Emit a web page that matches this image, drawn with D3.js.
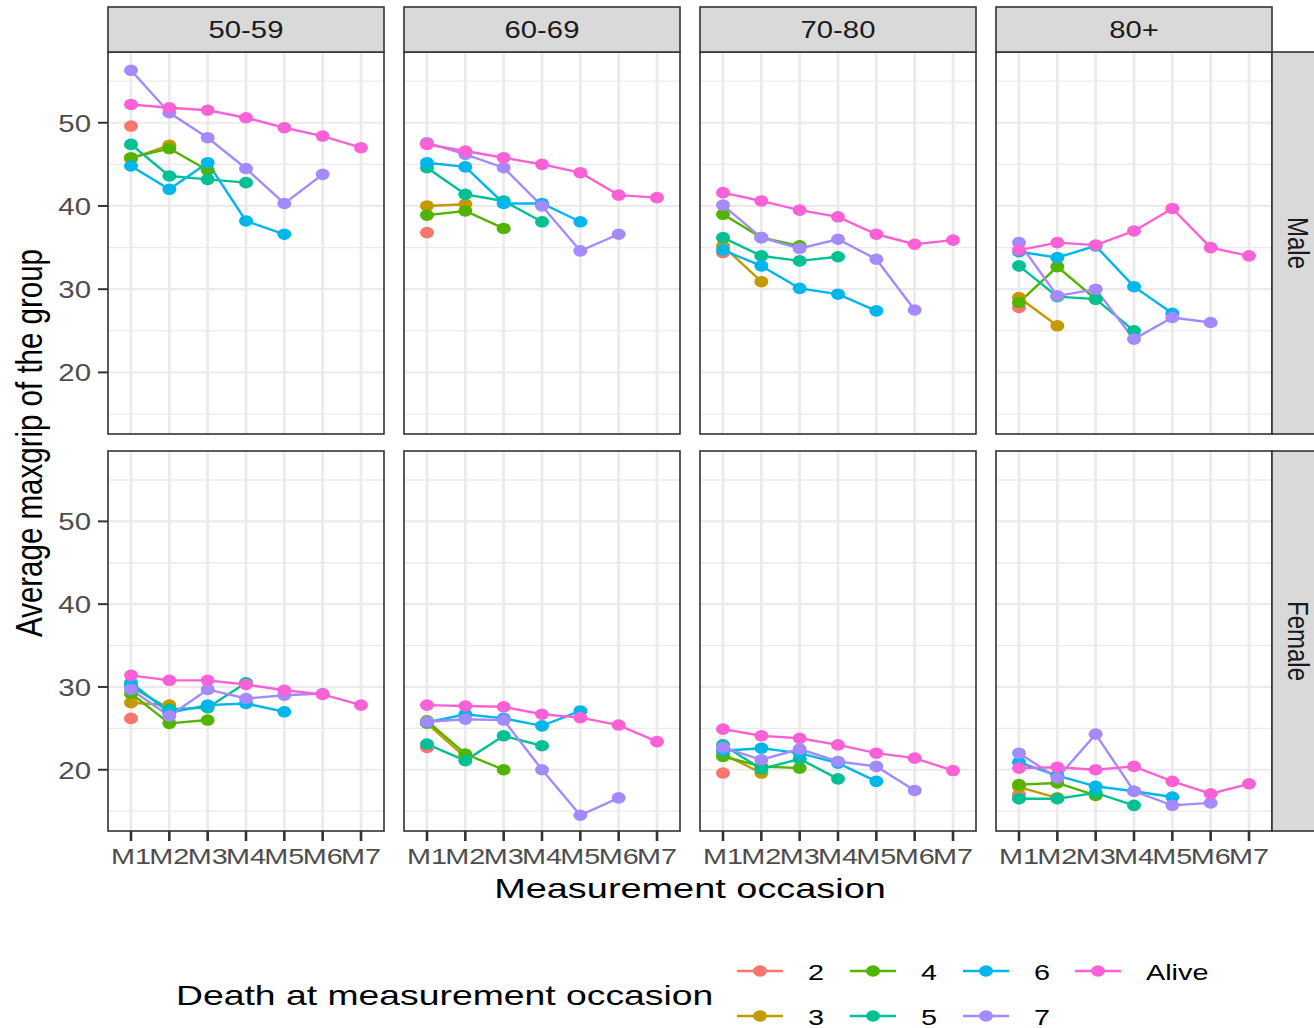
<!DOCTYPE html>
<html>
<head>
<meta charset="utf-8">
<script src="https://cdn.jsdelivr.net/npm/d3@7"></script>
<style>
  html, body { margin: 0; padding: 0; background: #fff; }
  svg { display: block; font-family: "Liberation Sans", Arial, sans-serif; }
</style>
</head>
<body>
<svg id="chart" width="1314" height="1028"></svg>
<script>
// ---- data -------------------------------------------------------------
const occasions = ["M1", "M2", "M3", "M4", "M5", "M6", "M7"];
const ageGroups = ["50-59", "60-69", "70-80", "80+"];
const sexes = ["Male", "Female"];
const deathGroups = ["2", "3", "4", "5", "6", "7", "Alive"];
const groupColors = ["#F8766D", "#C49A00", "#53B400", "#00C094", "#00B6EB", "#A58AFF", "#FB61D7"];
const yTicks = [20, 30, 40, 50];
const yMinor = [15, 25, 35, 45, 55];

// one array per panel; each row is a death group (2..7, Alive), values start at M1
const male5059 = [
  [49.6],
  [45.7, 47.3],
  [45.8, 46.9, 44.3],
  [47.4, 43.6, 43.2, 42.8],
  [44.8, 42.0, 45.2, 38.2, 36.6],
  [56.3, 51.2, 48.2, 44.5, 40.3, 43.8],
  [52.2, 51.8, 51.5, 50.6, 49.4, 48.4, 47.0]
];
const male6069 = [
  [36.8],
  [40.0, 40.2],
  [38.9, 39.4, 37.3],
  [44.6, 41.4, 40.6, 38.1],
  [45.2, 44.7, 40.3, 40.3, 38.1],
  [47.6, 46.2, 44.6, 40.0, 34.6, 36.6],
  [47.4, 46.6, 45.8, 45.0, 44.0, 41.3, 41.0]
];
const male7080 = [
  [34.4],
  [35.2, 30.9],
  [39.0, 36.2, 35.2],
  [36.2, 34.0, 33.4, 33.9],
  [34.7, 32.8, 30.1, 29.4, 27.4],
  [40.1, 36.2, 34.9, 36.0, 33.6, 27.5],
  [41.6, 40.6, 39.5, 38.7, 36.6, 35.4, 35.9]
];
const male80plus = [
  [27.8],
  [29.0, 25.6],
  [28.4, 32.7, 28.8],
  [32.8, 29.1, 28.8, 25.0],
  [34.5, 33.8, 35.2, 30.3, 27.1],
  [35.6, 29.2, 30.0, 24.0, 26.6, 26.0],
  [34.7, 35.6, 35.3, 37.0, 39.7, 35.0, 34.0]
];
const female5059 = [
  [26.2],
  [28.1, 27.8],
  [29.2, 25.6, 26.0],
  [30.1, 27.3, 27.5, 30.5],
  [30.5, 26.9, 27.8, 28.0, 27.0],
  [29.7, 26.5, 29.7, 28.6, 29.0, 29.2],
  [31.4, 30.8, 30.8, 30.3, 29.6, 29.1, 27.8]
];
const female6069 = [
  [22.7],
  [25.6, 21.5],
  [25.9, 21.9, 20.0],
  [23.1, 21.1, 24.1, 22.9],
  [25.7, 26.7, 26.2, 25.3, 27.1],
  [25.8, 26.1, 26.0, 20.0, 14.5, 16.6],
  [27.8, 27.7, 27.6, 26.7, 26.3, 25.4, 23.4]
];
const female7080 = [
  [19.6],
  [21.9, 19.6],
  [21.6, 20.4, 20.2],
  [23.0, 20.1, 21.3, 18.9],
  [22.3, 22.6, 22.0, 20.8, 18.6],
  [22.7, 21.2, 22.5, 21.0, 20.4, 17.5],
  [24.9, 24.1, 23.8, 23.0, 22.0, 21.4, 19.9]
];
const female80plus = [
  [17.0],
  [17.9, 16.6],
  [18.2, 18.4, 16.9],
  [16.5, 16.5, 17.2, 15.7],
  [20.9, 19.3, 18.0, 17.4, 16.7],
  [22.0, 19.0, 24.3, 17.4, 15.7, 16.0],
  [20.2, 20.3, 20.0, 20.4, 18.6, 17.1, 18.3]
];
const panelData = {
  "Male": [male5059, male6069, male7080, male80plus],
  "Female": [female5059, female6069, female7080, female80plus]
};

// ---- layout -----------------------------------------------------------
const svg = d3.select("#chart");
const colX = [108, 404, 700, 996];
const panelW = 276;
const rowY = [{ top: 52, bottom: 434 }, { top: 451, bottom: 831 }];
const stripTop = 7, stripBottom = 52;
const stripRightX = 1272;
const yDomain = [12.6, 58.5];
const color = d3.scaleOrdinal().domain(deathGroups).range(groupColors);
const ptRx = 7, ptRy = 5.8, lineW = 2.4;

// text drawn with a horizontal stretch factor
function label(g, x, y, txt, o) {
  const rot = o.rotate ? ` rotate(${o.rotate})` : "";
  return g.append("text")
    .attr("transform", `translate(${x},${y}) scale(${o.sx || 1},1)${rot}`)
    .attr("text-anchor", o.anchor || "start")
    .attr("font-size", o.size)
    .attr("fill", o.fill || "#000")
    .text(txt);
}

sexes.forEach((sex, ri) => {
  const { top, bottom } = rowY[ri];
  const y = d3.scaleLinear().domain(yDomain).range([bottom, top]);

  ageGroups.forEach((age, ci) => {
    const x0 = colX[ci];
    const x = d3.scalePoint().domain(occasions).range([x0, x0 + panelW]).padding(0.6);
    const g = svg.append("g");

    g.append("rect").attr("x", x0).attr("y", top).attr("width", panelW).attr("height", bottom - top)
      .attr("fill", "#fff");

    // grid
    g.selectAll(".minor").data(yMinor).join("line")
      .attr("x1", x0).attr("x2", x0 + panelW)
      .attr("y1", d => y(d)).attr("y2", d => y(d))
      .attr("stroke", "#EBEBEB").attr("stroke-width", 1.3);
    g.selectAll(".major").data(yTicks).join("line")
      .attr("x1", x0).attr("x2", x0 + panelW)
      .attr("y1", d => y(d)).attr("y2", d => y(d))
      .attr("stroke", "#EBEBEB").attr("stroke-width", 2.2);
    g.selectAll(".vmajor").data(occasions).join("line")
      .attr("x1", d => x(d)).attr("x2", d => x(d))
      .attr("y1", top).attr("y2", bottom)
      .attr("stroke", "#EBEBEB").attr("stroke-width", 2.8);

    // series
    const series = panelData[sex][ci].map((vals, gi) => ({
      group: deathGroups[gi],
      pts: vals.map((v, i) => ({ occ: occasions[i], v }))
    }));
    const line = d3.line().x(d => x(d.occ)).y(d => y(d.v));
    series.forEach(s => {
      if (s.pts.length > 1) {
        g.append("path").attr("d", line(s.pts)).attr("fill", "none")
          .attr("stroke", color(s.group)).attr("stroke-width", lineW);
      }
    });
    series.forEach(s => {
      g.selectAll(null).data(s.pts).join("ellipse")
        .attr("cx", d => x(d.occ)).attr("cy", d => y(d.v))
        .attr("rx", ptRx).attr("ry", ptRy)
        .attr("fill", color(s.group));
    });

    // border
    g.append("rect").attr("x", x0).attr("y", top).attr("width", panelW).attr("height", bottom - top)
      .attr("fill", "none").attr("stroke", "#333333").attr("stroke-width", 1.6);

    // top strips
    if (ri === 0) {
      svg.append("rect").attr("x", x0).attr("y", stripTop).attr("width", panelW)
        .attr("height", stripBottom - stripTop)
        .attr("fill", "#D9D9D9").attr("stroke", "#333333").attr("stroke-width", 1.6);
      label(svg, x0 + panelW / 2, 38, age, { size: 24, sx: 1.22, anchor: "middle", fill: "#1A1A1A" });
    }

    // y axis on first column
    if (ci === 0) {
      const ay = svg.append("g");
      yTicks.forEach(t => {
        ay.append("line").attr("x1", 98).attr("x2", x0).attr("y1", y(t)).attr("y2", y(t))
          .attr("stroke", "#333333").attr("stroke-width", 2);
        label(ay, 91, y(t) + 8.8, String(t), { size: 24.5, sx: 1.2, anchor: "end", fill: "#4D4D4D" });
      });
    }

    // x axis on bottom row
    if (ri === 1) {
      const ax = svg.append("g");
      occasions.forEach(o => {
        ax.append("line").attr("x1", x(o)).attr("x2", x(o)).attr("y1", bottom).attr("y2", bottom + 10)
          .attr("stroke", "#333333").attr("stroke-width", 2.6);
        label(ax, x(o), 864, o, { size: 21.5, sx: 1.34, anchor: "middle", fill: "#4D4D4D" });
      });
    }
  });

  // right strip
  svg.append("rect").attr("x", stripRightX).attr("y", top).attr("width", 60).attr("height", bottom - top)
    .attr("fill", "#D9D9D9").attr("stroke", "#333333").attr("stroke-width", 1.6);
  label(svg, 1288, (top + bottom) / 2, sex, { size: 24, sx: 1.22, anchor: "middle", fill: "#1A1A1A", rotate: 90 });
});

// axis titles
label(svg, 690, 898, "Measurement occasion", { size: 28.5, sx: 1.33, anchor: "middle" });
label(svg, 42, 443, "Average maxgrip of the group", { size: 29.5, sx: 1.28, anchor: "middle", rotate: -90 });

// legend
const legend = svg.append("g");
label(legend, 176, 1005, "Death at measurement occasion", { size: 28.5, sx: 1.31 });
const keyX = [737, 850, 963, 1075];
const keyY = [971, 1016];
deathGroups.forEach((gname, i) => {
  const col = Math.floor(i / 2), row = i % 2;
  const kx = keyX[col], ky = keyY[row];
  legend.append("line").attr("x1", kx).attr("x2", kx + 46).attr("y1", ky).attr("y2", ky)
    .attr("stroke", color(gname)).attr("stroke-width", lineW);
  legend.append("ellipse").attr("cx", kx + 23).attr("cy", ky).attr("rx", ptRx).attr("ry", ptRy)
    .attr("fill", color(gname));
  label(legend, kx + 71, ky + 8.5, gname, { size: 22.5, sx: 1.28 });
});
</script>
</body>
</html>
